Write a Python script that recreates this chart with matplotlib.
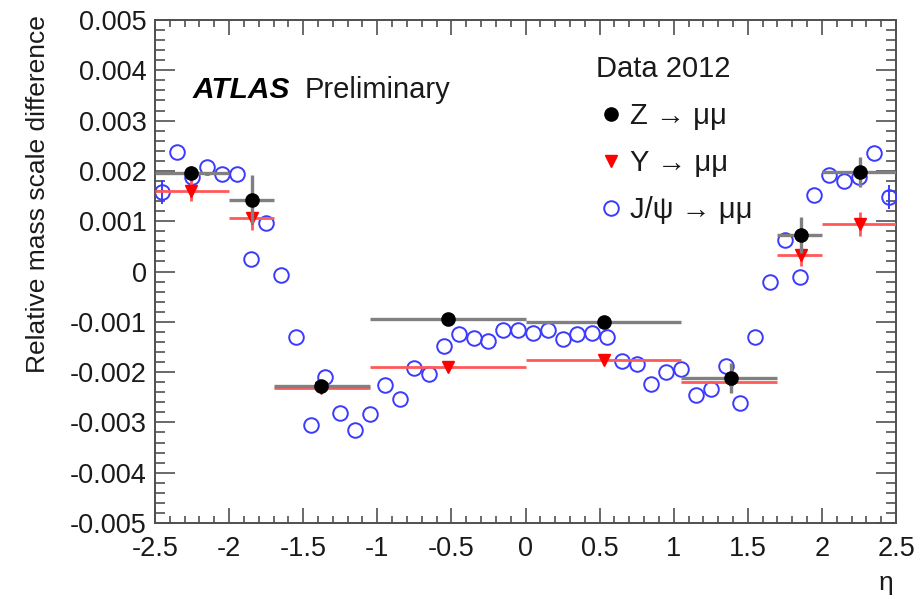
import matplotlib
matplotlib.use("Agg")
import matplotlib.pyplot as plt
from matplotlib.ticker import MultipleLocator, FuncFormatter
from matplotlib.lines import Line2D
import numpy as np

plt.rcParams['font.family'] = ['Liberation Sans', 'DejaVu Sans']
plt.rcParams['axes.unicode_minus'] = False

# ---- data ----
# Z -> mumu
z_lo = [-2.5, -2.0, -1.7, -1.05, 0.0, 1.05, 1.7, 2.0]
z_hi = [-2.0, -1.7, -1.05, 0.0, 1.05, 1.7, 2.0, 2.5]
z_x = [-2.26, -1.845, -1.38, -0.525, 0.53, 1.385, 1.86, 2.255]
z_y = [0.00195, 0.00143, -0.00228, -0.00095, -0.00100, -0.00212, 0.00072, 0.00198]
z_err = [0.00015, 0.00048, 0.00010, 0.00008, 0.00008, 0.00030, 0.00036, 0.00030]

# Upsilon -> mumu
u_x = [-2.26, -1.845, -1.38, -0.525, 0.53, 1.385, 1.86, 2.255]
u_y = [0.00161, 0.00107, -0.00231, -0.00190, -0.00175, -0.00219, 0.00032, 0.00095]
u_err = [0.00020, 0.00024, 0.00008, 0.00008, 0.00008, 0.00008, 0.00022, 0.00024]

# J/psi -> mumu
j_x = [-2.45, -2.35, -2.25, -2.15, -2.05, -1.95, -1.85, -1.75, -1.65, -1.55,
       -1.45, -1.35, -1.25, -1.15, -1.05, -0.95, -0.85, -0.75, -0.65, -0.55,
       -0.45, -0.35, -0.25, -0.15, -0.05, 0.05, 0.15, 0.25, 0.35, 0.45,
       0.55, 0.65, 0.75, 0.85, 0.95, 1.05, 1.15, 1.25, 1.35, 1.45,
       1.55, 1.65, 1.75, 1.85, 1.95, 2.05, 2.15, 2.25, 2.35, 2.45]
j_y = [0.00158, 0.00237, 0.00188, 0.00207, 0.00193, 0.00194, 0.00025, 0.00096, -0.00006, -0.00131,
       -0.00306, -0.00210, -0.00282, -0.00316, -0.00283, -0.00225, -0.00254, -0.00192, -0.00204, -0.00149,
       -0.00124, -0.00133, -0.00139, -0.00117, -0.00117, -0.00122, -0.00117, -0.00134, -0.00124, -0.00123,
       -0.00131, -0.00177, -0.00184, -0.00223, -0.00200, -0.00193, -0.00245, -0.00233, -0.00187, -0.00262,
       -0.00131, -0.00021, 0.00062, -0.00011, 0.00153, 0.00191, 0.00179, 0.00188, 0.00235, 0.00148]
j_err = [0.00024] + [0.0] * 48 + [0.00024]

x_ticks = [-2.5, -2, -1.5, -1, -0.5, 0, 0.5, 1, 1.5, 2, 2.5]

# ---- figure ----
W, H = 922, 599
fig = plt.figure(figsize=(W / 100, H / 100), dpi=100)
ax = fig.add_axes([155 / W, 1 - 523 / H, 741 / W, 503 / H])

z_x = np.array(z_x)
xerr_z = [z_x - np.array(z_lo), np.array(z_hi) - z_x]
xerr_u = [np.array(u_x) - np.array(z_lo), np.array(z_hi) - np.array(u_x)]

ax.errorbar(j_x, j_y, yerr=j_err, fmt='o', ms=10.5, mfc='none', mec='#3b3bff',
            mew=1.4, ecolor='#3b3bff', elinewidth=1.4, capsize=0, zorder=3)
ax.errorbar(u_x, u_y, xerr=xerr_u, yerr=u_err, fmt='v', ms=8, mfc='red', mec='red',
            ecolor='#ff5a5a', elinewidth=2.0, capsize=0, zorder=4)
ax.errorbar(z_x, z_y, xerr=xerr_z, yerr=z_err, fmt='o', ms=9.5, mfc='black', mec='black',
            ecolor='#808080', elinewidth=2.4, capsize=0, zorder=5)

ax.set_xlim(-2.5, 2.5)
ax.set_ylim(-0.005, 0.005)
ax.set_xticks(x_ticks)
ax.xaxis.set_minor_locator(MultipleLocator(0.1))
ax.yaxis.set_major_locator(MultipleLocator(0.001))
ax.yaxis.set_minor_locator(MultipleLocator(0.0002))
ax.xaxis.set_major_formatter(FuncFormatter(lambda v, p: '%g' % v))
ax.yaxis.set_major_formatter(FuncFormatter(lambda v, p: '0' if abs(v) < 1e-9 else '%.3f' % v))

frame = '#505050'
for s in ax.spines.values():
    s.set_color(frame)
    s.set_linewidth(1.4)
ax.tick_params(which='both', direction='in', top=True, right=True, color=frame, width=1.2,
               labelsize=19.5, labelcolor='#1a1a1a')
ax.tick_params(axis='x', which='major', length=10.5, pad=9)
ax.tick_params(axis='x', which='minor', length=5)
ax.tick_params(axis='y', which='major', length=14.5, pad=6)
ax.tick_params(axis='y', which='minor', length=7)

fig.text(38 / W, 1 - 15 / H, 'Relative mass scale difference', rotation=90,
         ha='center', va='top', fontsize=19, color='#1a1a1a')
fig.text(893 / W, 1 - 583 / H, 'η', ha='right', va='center', fontsize=19, color='#1a1a1a')

ax.text((193 - 155) / 741, 1 - (90 - 20) / 503, 'ATLAS', transform=ax.transAxes,
        fontsize=21.5, fontweight='bold', fontstyle='italic', ha='left', va='center')
ax.text((305 - 155) / 741, 1 - (90 - 20) / 503, 'Preliminary', transform=ax.transAxes,
        fontsize=21, ha='left', va='center', color='#1a1a1a')

handles = [
    Line2D([], [], ls='none', marker='o', ms=9.5, mfc='black', mec='black'),
    Line2D([], [], ls='none', marker='v', ms=8, mfc='red', mec='red'),
    Line2D([], [], ls='none', marker='o', ms=10.5, mfc='none', mec='#3b3bff', mew=1.4),
]
labels = ['Z → μμ', 'Υ → μμ', 'J/ψ → μμ']
leg = ax.legend(handles, labels, title='Data 2012', loc='upper left',
                bbox_to_anchor=((596 - 155) / 741, 1 - (55 - 20) / 503),
                frameon=False, fontsize=21, title_fontsize=21, alignment='left',
                handlelength=1.0, handletextpad=0.15, labelspacing=0.65,
                borderpad=0, borderaxespad=0)
for t in leg.get_texts():
    t.set_color('#1a1a1a')
leg.get_title().set_color('#1a1a1a')

fig.savefig('out.png', dpi=100)
